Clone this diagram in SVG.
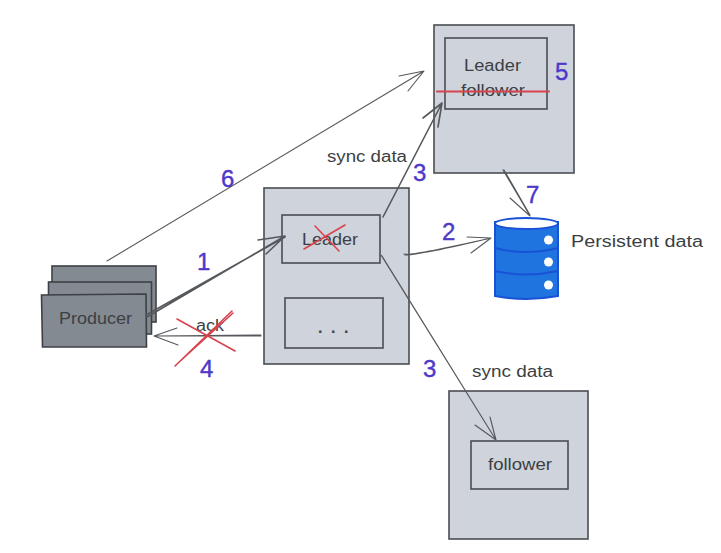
<svg xmlns="http://www.w3.org/2000/svg" width="721" height="553" viewBox="0 0 721 553">
<style>
.box{fill:#ced3dc;stroke:#4a4d52;stroke-width:1.6}
.prod{fill:#838a91;stroke:#3d4145;stroke-width:1.6}
.ln{fill:none;stroke:#55585c;stroke-width:1.1;stroke-linecap:round;stroke-linejoin:round}
.thick{stroke-width:1.6}
.red{fill:none;stroke:#d8434e;stroke-width:1.6;stroke-linecap:round}
.redb{stroke-width:2.2}
.t{font-family:"Liberation Sans",Arial,sans-serif;font-size:16px;fill:#3c3f43}
.n{font-family:"Liberation Sans",Arial,sans-serif;font-size:24px;fill:#4d38c9;stroke:#4d38c9;stroke-width:.4}
.cyl{fill:#1f74e0;stroke:#1a52d6;stroke-width:2}
</style>
<rect width="721" height="553" fill="#fff"/>
<g id="producer">
<rect class="prod" x="52" y="266" width="104" height="56"/>
<rect class="prod" x="48.500" y="282" width="103" height="52"/>
<path class="prod" d="M41.500 295L146 294L146.500 347L42.500 347Z"/>
<text class="t" x="59" y="324" textLength="73" lengthAdjust="spacingAndGlyphs">Producer</text>
</g>
<g id="broker">
<rect class="box" x="264" y="188" width="145" height="176"/>
<g id="broker-leader">
<rect class="box" x="282" y="215" width="98" height="48"/>
<text class="t" x="302" y="245" textLength="56" lengthAdjust="spacingAndGlyphs">Leader</text>
<path class="red" d="M315 226L339 251M345 225L304 249"/>
</g>
<g id="broker-other">
<rect class="box" x="285" y="298" width="98" height="50"/>
<text class="t" x="318" y="333" font-weight="bold" letter-spacing="8.500">...</text>
</g>
</g>
<g id="top-broker">
<rect class="box" x="434" y="25" width="140" height="148"/>
<g id="top-inner">
<rect class="box" x="445" y="38" width="102" height="71"/>
<text class="t" x="464" y="71" textLength="57" lengthAdjust="spacingAndGlyphs">Leader</text>
<text class="t" x="461" y="96" textLength="64" lengthAdjust="spacingAndGlyphs">follower</text>
</g>
<path class="red redb" d="M437 91.500L549 91.500"/>
</g>
<g id="bottom-broker">
<rect class="box" x="449" y="391" width="139" height="148"/>
<g id="bottom-inner">
<rect class="box" x="471" y="441" width="97" height="48"/>
<text class="t" x="488" y="470" textLength="64" lengthAdjust="spacingAndGlyphs">follower</text>
</g>
</g>
<g id="storage">
<path class="cyl" d="M495 222V296Q526 302 558 296V222Z"/>
<ellipse cx="526.500" cy="223.500" rx="31.500" ry="5.500" fill="#fff" stroke="#1a52d6" stroke-width="2"/>
<path d="M495 248Q526 256 558 248M495 271Q526 278 558 271" fill="none" stroke="#1a52d6" stroke-width="2"/>
<circle cx="548.500" cy="240" r="4.500" fill="#fff"/>
<circle cx="548.500" cy="262" r="4.500" fill="#fff"/>
<circle cx="548.500" cy="285" r="4.500" fill="#fff"/>
<text class="t" x="571" y="247" textLength="132" lengthAdjust="spacingAndGlyphs">Persistent data</text>
</g>
<g id="connectors">
<path class="ln" d="M107 261L424 71M399 76L424 71L408 91"/>
<path class="ln thick" d="M146 315L285 237M147 317L285 236M258 240L285 236L266 254"/>
<path class="ln thick" d="M383 217L442 103M423 118L442 103L438 127"/>
<path class="ln" d="M404 254Q412 256 491 238M405 255Q420 255 491 238M467 237L491 238L471 253"/>
<path class="ln" d="M381 255L496 440M382 256L496 440M475 425L496 440L490 417"/>
<path class="ln" d="M503 170L529 214M504 170L530 215M510 198L530 216L515 190"/>
<path class="ln" d="M261 335L154 336M261 336L154 336M177 328L154 336L178 345"/>
</g>
<g id="labels">
<text class="t" x="327" y="162" textLength="80" lengthAdjust="spacingAndGlyphs">sync data</text>
<text class="t" x="472" y="377" textLength="81" lengthAdjust="spacingAndGlyphs">sync data</text>
<text class="t" x="196" y="331" textLength="28" lengthAdjust="spacingAndGlyphs">ack</text>
<path class="red" d="M177 319L235 351M232 311L175 366M233 313L177 364"/>
<text class="n" x="221" y="187">6</text>
<text class="n" x="197" y="270">1</text>
<text class="n" x="200" y="377">4</text>
<text class="n" x="413" y="181">3</text>
<text class="n" x="423" y="377">3</text>
<text class="n" x="442" y="240">2</text>
<text class="n" x="555" y="80">5</text>
<text class="n" x="526" y="203">7</text>
</g>
</svg>
